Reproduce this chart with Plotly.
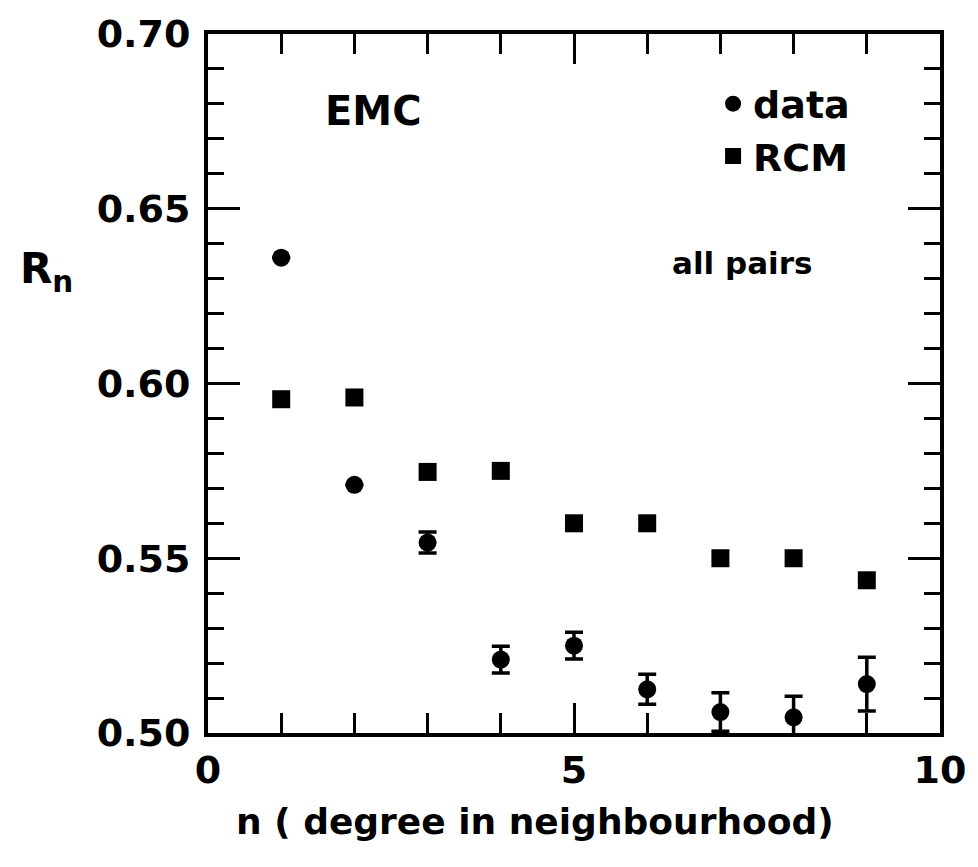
import plotly.graph_objects as go

n_values = [1, 2, 3, 4, 5, 6, 7, 8, 9]
data_values = [0.636, 0.571, 0.5545, 0.521, 0.525, 0.5125, 0.506, 0.5045, 0.514]
data_errors = [0.0, 0.0, 0.003, 0.0038, 0.0038, 0.0043, 0.0055, 0.006, 0.0077]
rcm_values = [0.5955, 0.596, 0.5747, 0.575, 0.560, 0.560, 0.550, 0.550, 0.5437]
x_ticks = [0, 5, 10]
y_ticks = [0.50, 0.55, 0.60, 0.65, 0.70]

FONT = "DejaVu Sans"

fig = go.Figure()
fig.add_trace(go.Scatter(
    x=n_values, y=data_values, mode="markers", name="data",
    marker=dict(symbol="circle", size=18, color="black"),
    error_y=dict(type="data", array=data_errors, visible=True,
                 color="black", thickness=3.5, width=9),
))
fig.add_trace(go.Scatter(
    x=n_values, y=rcm_values, mode="markers", name="RCM",
    marker=dict(symbol="square", size=18, color="black"),
))

axis_common = dict(
    showline=True, linecolor="black", linewidth=4, mirror="ticks",
    ticks="inside", tickcolor="black", tickwidth=3,
    showgrid=False, zeroline=False,
    tickfont=dict(family=FONT, size=38, color="black", weight="bold"),
)

fig.update_xaxes(
    range=[0, 10], tickvals=x_ticks, ticklen=30,
    ticklabeloverflow="allow",
    minor=dict(dtick=1, ticklen=20, ticks="inside", tickcolor="black", tickwidth=3, showgrid=False),
    **axis_common,
)
fig.update_yaxes(
    range=[0.5, 0.7], tickvals=y_ticks, tickformat=".2f", ticklen=32,
    ticklabelstandoff=6, ticklabeloverflow="allow",
    minor=dict(dtick=0.01, ticklen=16, ticks="inside", tickcolor="black", tickwidth=3, showgrid=False),
    **axis_common,
)

fig.add_annotation(text="R<sub>n</sub>", xref="paper", yref="paper",
                   x=-0.22, y=0.66, showarrow=False, xanchor="center", yanchor="middle",
                   font=dict(family=FONT, size=42, color="black", weight="bold"))
fig.add_annotation(text="n ( degree in neighbourhood)", xref="paper", yref="paper",
                   x=0.447, y=-0.095, showarrow=False, xanchor="center", yanchor="top",
                   font=dict(family=FONT, size=36, color="black", weight="bold"))
fig.add_annotation(text="EMC", x=2.25, y=0.678, showarrow=False,
                   font=dict(family=FONT, size=40, color="black", weight="bold"))
fig.add_annotation(text="all pairs", x=7.3, y=0.6345, showarrow=False,
                   font=dict(family=FONT, size=31, color="black", weight="bold"))

fig.update_layout(
    width=978, height=867,
    margin=dict(l=208, r=26, t=27, b=134),
    paper_bgcolor="white", plot_bgcolor="white",
    showlegend=True,
    legend=dict(x=0.69, y=0.945, xanchor="left", yanchor="top",
                font=dict(family=FONT, size=38, color="black", weight="bold"),
                bgcolor="rgba(0,0,0,0)", itemwidth=30, tracegroupgap=0,
                itemsizing="trace"),
)

fig.write_html("out.html")
